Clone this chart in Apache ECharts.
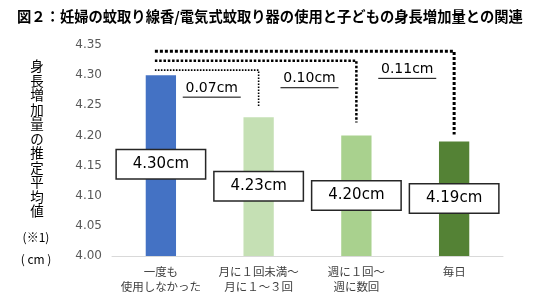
<!DOCTYPE html>
<html>
<head>
<meta charset="utf-8">
<script src="https://cdn.jsdelivr.net/npm/echarts@6/dist/echarts.min.js"></script>
<style>html,body{margin:0;padding:0;background:#fff}#c{width:550px;height:302px}</style>
</head>
<body>
<div id="c"></div>
<script>
// ---- data ----
const categories = ['一度も\n使用しなかった', '月に１回未満～\n月に１～３回', '週に１回～\n週に数回', '毎日'];
const values = [4.30, 4.23, 4.20, 4.19];
const valueLabels = ['4.30cm', '4.23cm', '4.20cm', '4.19cm'];
const diffLabels = ['0.07cm', '0.10cm', '0.11cm'];
const yMin = 4.00, yMax = 4.35, yInterval = 0.05;
const titleText = '図２：妊婦の蚊取り線香/電気式蚊取り器の使用と子どもの身長増加量との関連';
const yNameChars = '身長増加量の推定平均値';
const yNameNote = '(※1)';
const yNameUnit = '( cm )';

// ---- style ----
const barColors = ['#4472C4', '#C5E0B4', '#A9D18E', '#548235'];
const labelDistance = [89, 69, 60, 57];
const bracketWidth = [1.6, 2.5, 3];
const bracketDash = [[1.6, 1.4], [2.5, 1.8], [3, 2]];
const bracketGap = [10, 13, 7];
const numFont = '"DejaVu Sans", sans-serif';
const jpFont = '"Noto Sans CJK JP", sans-serif';

const chart = echarts.init(document.getElementById('c'));
chart.setOption({
  animation: false,
  grid: { left: 112, right: 47, top: 45, bottom: 46 },
  title: {
    text: titleText, left: 12, top: 4,
    textStyle: { fontFamily: jpFont, fontSize: 14.3, fontWeight: 'bold', color: '#000' }
  },
  xAxis: {
    type: 'category', data: categories,
    axisLine: { lineStyle: { color: '#d9d9d9', width: 1 } },
    axisTick: { show: false },
    axisLabel: { fontFamily: jpFont, fontSize: 11.5, lineHeight: 15, color: '#404040', margin: 8, interval: 0 }
  },
  yAxis: {
    type: 'value', min: yMin, max: yMax, interval: yInterval,
    axisLine: { show: false }, axisTick: { show: false }, splitLine: { show: false },
    axisLabel: { fontFamily: numFont, fontSize: 12, color: '#595959', margin: 10,
      formatter: v => v.toFixed(2) }
  },
  series: [{
    type: 'bar', barWidth: '31%',
    data: values.map((v, i) => ({
      value: v,
      itemStyle: { color: barColors[i] },
      label: {
        show: true, position: 'insideTop', distance: labelDistance[i],
        formatter: valueLabels[i],
        fontFamily: numFont, fontSize: 15, color: '#000',
        backgroundColor: '#fff', borderColor: '#262626', borderWidth: 1.5,
        width: 88, height: 28, lineHeight: 28, align: 'center', verticalAlign: 'middle'
      }
    }))
  }]
});

function drawAnnotations() {
  const px = (i, v) => chart.convertToPixel({ gridIndex: 0 }, [i, v]);
  const g = [];
  const top0 = px(0, values[0]);
  const startX = top0[0] - 6;
  for (let k = 0; k < 3; k++) {
    const i = k + 1;
    const y = top0[1] - 5 - 9.4 * k;
    const end = px(i, values[i]);
    const endY = end[1] - bracketGap[k];
    g.push({
      type: 'polyline',
      shape: { points: [[startX, y], [end[0], y], [end[0], endY]] },
      style: { stroke: '#000', lineWidth: bracketWidth[k], lineDash: bracketDash[k], fill: null }
    });
    const prev = px(i - 1, values[i - 1]);
    const cx = (prev[0] + end[0]) / 2 + 2;
    const cy = y + 18;
    g.push({
      type: 'text', x: cx, y: cy,
      style: { text: diffLabels[k], font: '14px ' + numFont, fill: '#000', align: 'center', verticalAlign: 'middle' }
    });
    g.push({
      type: 'line',
      shape: { x1: cx - 29, y1: cy + 9, x2: cx + 29, y2: cy + 9 },
      style: { stroke: '#000', lineWidth: 1 }
    });
  }
  // y axis name (vertical)
  g.push({
    type: 'text', x: 37, y: 59,
    style: { text: yNameChars.split('').join('\n'), font: '13.5px ' + jpFont, lineHeight: 14.5,
      fill: '#000', align: 'center', verticalAlign: 'top' }
  });
  g.push({
    type: 'text', x: 36, y: 237,
    style: { text: yNameNote, font: '12px ' + jpFont, fill: '#000', align: 'center', verticalAlign: 'middle' }
  });
  g.push({
    type: 'text', x: 36, y: 259,
    style: { text: yNameUnit, font: '12px ' + jpFont, fill: '#000', align: 'center', verticalAlign: 'middle' }
  });
  chart.setOption({ graphic: g });
}
drawAnnotations();
</script>
</body>
</html>
